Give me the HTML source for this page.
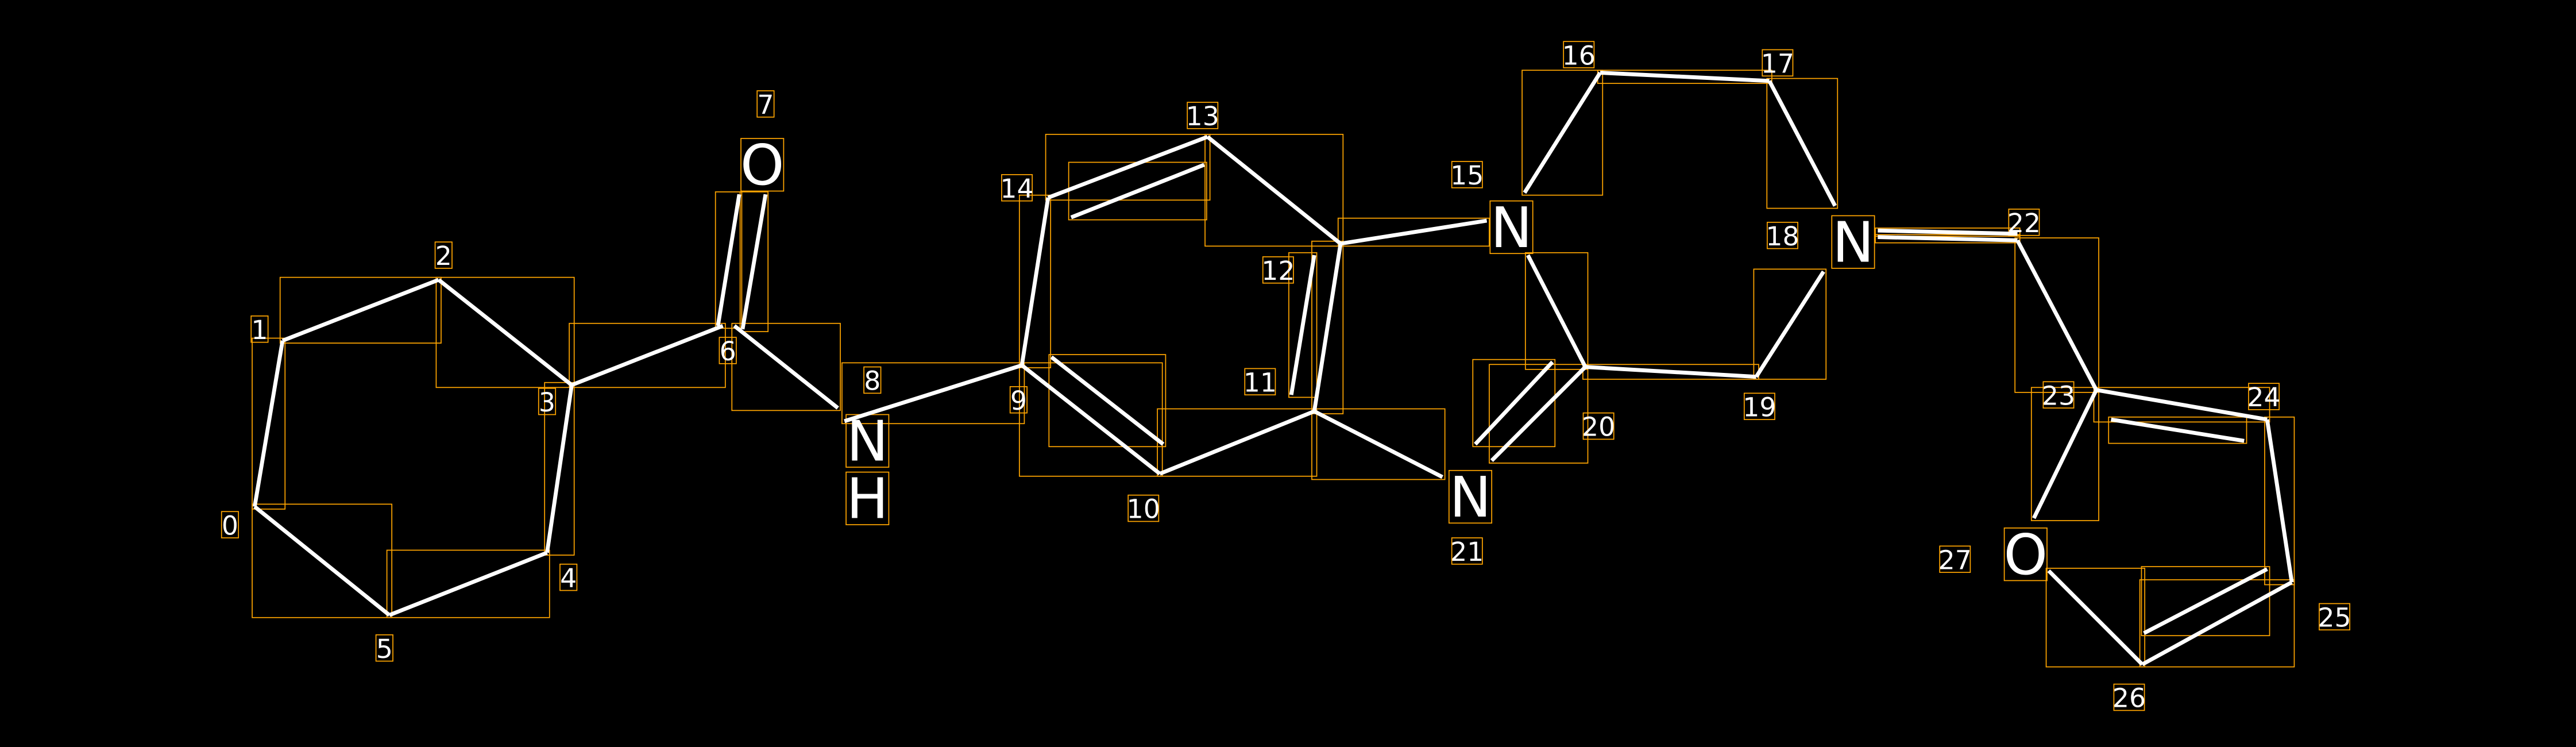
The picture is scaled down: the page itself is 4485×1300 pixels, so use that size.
<!DOCTYPE html>
<html><head><meta charset="utf-8"><style>
html,body{margin:0;padding:0;background:#000;}
svg{display:block}
text{font-family:"DejaVu Sans","Liberation Sans",sans-serif;fill:#fff}
</style></head><body>
<svg id="s" width="4485" height="1300" viewBox="0 0 1568 454" xmlns="http://www.w3.org/2000/svg">
<rect width="1568" height="454" fill="#000"/>
<g id="box" fill="none" stroke="#FFA500" stroke-width="0.6"></g>
<g id="bond" stroke="#fff" stroke-width="2.4" stroke-linecap="butt"></g>
<g id="lab"></g>
</svg>
<script>
var B=[
[155,308,172,207],[172,207,267,170],[267,170,348,234],[348,234,333,336],[333,336,237,374],[237,374,155,308],
[348,234,440,198],[437,198,450,118],[452,200,466,118],[447,198,510,248],[514,256,622,222],
[622,222,706,288],[640,217,708,270],[706,288,800,250],[800,250,816,148],[786,240,800,155],
[816,148,735,83],[735,83,638,120],[652,132,733,100],[638,120,622,222],
[816,148,905,134],[930,155,965,223],[928,117,974,44],[974,44,1077,49],[1077,49,1117,125],
[965,223,1069,229],[1069,229,1110,165],[965,223,908,280],[945,220,898,270],[800,250,878,290],
[1143,144,1228,146],[1143,140,1228,142],[1228,146,1276,237],[1276,237,1380,255],[1285,255,1366,268],
[1380,255,1395,354],[1395,354,1304,404],[1305,385,1380,346],[1304,404,1247,347],[1276,237,1238,315]
];
var ns="http://www.w3.org/2000/svg";
function el(p,t,a,txt){var e=document.createElementNS(ns,t);for(var k in a)e.setAttribute(k,a[k]);if(txt)e.textContent=txt;document.getElementById(p).appendChild(e);return e;}
B.forEach(function(b){
 el("bond","line",{x1:b[0],y1:b[1],x2:b[2],y2:b[3]});
 var x=Math.min(b[0],b[2])-1.5,y=Math.min(b[1],b[3])-1.5,w=Math.abs(b[0]-b[2])+3,h=Math.abs(b[1]-b[3])+3;
 el("box","rect",{x:x,y:y,width:w,height:h});
});
var L=[["0",140,319],["1",158,200],["2",270,155],["3",333,244],["4",346,351],["5",234,394],["6",443,213],["7",466,63],["8",531,231],["9",620,243],["10",696,309],["11",767,232],["12",778,164],["13",732,70],["14",619,114],["15",893,106],["16",961,33],["17",1082,38],["18",1085,143],["19",1071,247],["20",973,259],["21",893,335],["22",1232,135],["23",1253,240],["24",1378,241],["25",1421,375],["26",1296,424],["27",1190,340]];
L.forEach(function(l){
 var w=l[0].length*8.3;
 el("box","rect",{x:l[1]-w/2-1,y:l[2]-8,width:w+2,height:16});
 el("lab","text",{x:l[1],y:l[2]+6,"font-size":"16","text-anchor":"middle"},l[0]);
});
var A=[["O",464,100],["N",528,268],["H",528,303],["N",920,138],["N",1128,147],["N",895,302],["O",1233,337]];
A.forEach(function(a){
 el("box","rect",{x:a[1]-13,y:a[2]-16,width:26,height:32});
 el("lab","text",{x:a[1],y:a[2]+12,"font-size":"34","text-anchor":"middle"},a[0]);
});
</script>
</body></html>
